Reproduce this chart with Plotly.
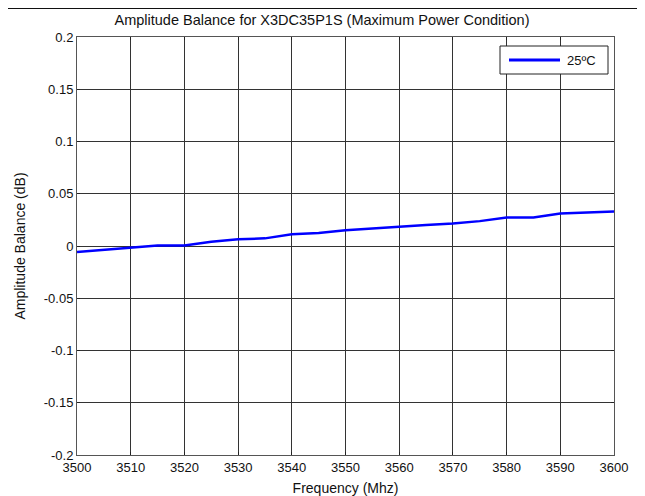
import plotly.graph_objects as go

# Measured amplitude balance, 25 C
freq = [3500, 3505, 3510, 3515, 3520, 3525, 3530, 3535, 3540, 3545, 3550,
        3555, 3560, 3565, 3570, 3575, 3580, 3585, 3590, 3595, 3600]
bal = [-0.0057, -0.0035, -0.0015, 0.0005, 0.0005, 0.004, 0.0064, 0.0073, 0.0112, 0.0125, 0.015,
       0.0168, 0.018, 0.020, 0.0215, 0.0238, 0.0272, 0.0272, 0.031, 0.032, 0.033]
x_ticks = list(range(3500, 3601, 10))
y_ticks = [0.2, 0.15, 0.1, 0.05, 0, -0.05, -0.1, -0.15, -0.2]
y_labels = ["0.2", "0.15", "0.1", "0.05", "0", "-0.05", "-0.1", "-0.15", "-0.2"]
series_name = "25ºC"

FONT = "Liberation Sans, Arial, sans-serif"
GRID = "#333"
BLUE = "#0000ff"

fig = go.Figure(go.Scatter(x=freq, y=bal, mode="lines", name=series_name,
                           line=dict(color=BLUE, width=2.5)))

axis = dict(showline=True, linecolor="#555", linewidth=1, mirror="ticks",
            ticks="inside", ticklen=3, tickcolor="#222", automargin=False,
            showgrid=True, gridcolor=GRID, gridwidth=1, zeroline=False,
            tickfont=dict(family=FONT, size=13, color="#111"))

# page body adds 8px margin, so figure is 8px smaller than window
fig.update_layout(
    width=637, height=488,
    paper_bgcolor="white", plot_bgcolor="white",
    margin=dict(l=69, r=31, t=29, b=41),
    font=dict(family=FONT, color="#111"),
    title=dict(text="Amplitude Balance for X3DC35P1S (Maximum Power Condition)",
               font=dict(family=FONT, size=14.5, color="#111"),
               x=(322 - 8) / 637, xanchor="center", xref="container",
               y=1 - 12/488, yanchor="middle"),
    xaxis=dict(axis, range=[3500, 3600], tickvals=x_ticks,
               title=dict(text="Frequency (Mhz)", font=dict(family=FONT, size=14), standoff=12)),
    yaxis=dict(axis, range=[-0.2, 0.2], tickvals=y_ticks, ticktext=y_labels,
               title=dict(text="Amplitude Balance (dB)", font=dict(family=FONT, size=14), standoff=14)),
    showlegend=False,
)

# legend drawn by hand to match the wide key line
fig.add_shape(type="rect", xref="paper", yref="paper",
              x0=423/537, x1=531/537, y0=1 - 37/418, y1=1 - 9/418,
              line=dict(color="#222", width=1), fillcolor="white", layer="above")
fig.add_shape(type="line", xref="paper", yref="paper",
              x0=432/537, x1=483/537, y0=1 - 23/418, y1=1 - 23/418,
              line=dict(color=BLUE, width=3), layer="above")
fig.add_annotation(text=series_name, xref="paper", yref="paper",
                   x=488/537, y=1 - 23/418, xanchor="left", yanchor="middle",
                   showarrow=False, font=dict(family=FONT, size=13, color="#111"))

# document rule across the top of the page
fig.add_shape(type="line", xref="paper", yref="paper",
              x0=-69/537, x1=1 + 31/537, y0=1 + 29/418, y1=1 + 29/418,
              line=dict(color="#111", width=2))

fig.write_html("out.html")
